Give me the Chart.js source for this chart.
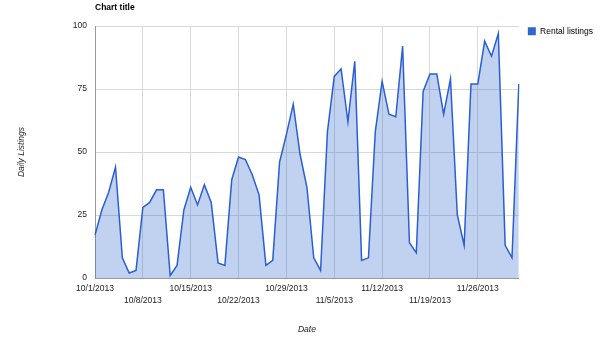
<!DOCTYPE html>
<html>
<head>
<meta charset="utf-8">
<script src="https://cdn.jsdelivr.net/npm/chart.js@4.4.1/dist/chart.umd.min.js"></script>
<style>
  html, body { margin: 0; padding: 0; background: #fff; }
  #wrap { width: 600px; height: 342px; position: relative; }
</style>
</head>
<body>
<div id="wrap"><canvas id="c" width="600" height="342"></canvas></div>
<script>
// Dates: daily from 10/1/2013 to 12/2/2013
const categories = [
  '10/1/2013','10/2/2013','10/3/2013','10/4/2013','10/5/2013','10/6/2013','10/7/2013',
  '10/8/2013','10/9/2013','10/10/2013','10/11/2013','10/12/2013','10/13/2013','10/14/2013',
  '10/15/2013','10/16/2013','10/17/2013','10/18/2013','10/19/2013','10/20/2013','10/21/2013',
  '10/22/2013','10/23/2013','10/24/2013','10/25/2013','10/26/2013','10/27/2013','10/28/2013',
  '10/29/2013','10/30/2013','10/31/2013','11/1/2013','11/2/2013','11/3/2013','11/4/2013',
  '11/5/2013','11/6/2013','11/7/2013','11/8/2013','11/9/2013','11/10/2013','11/11/2013',
  '11/12/2013','11/13/2013','11/14/2013','11/15/2013','11/16/2013','11/17/2013','11/18/2013',
  '11/19/2013','11/20/2013','11/21/2013','11/22/2013','11/23/2013','11/24/2013','11/25/2013',
  '11/26/2013','11/27/2013','11/28/2013','11/29/2013','11/30/2013','12/1/2013','12/2/2013'
];
const rentalListings = [
  17, 27, 34, 44, 8, 2, 3,
  28, 30, 35, 35, 1, 5, 27,
  36, 29, 37, 30, 6, 5, 39,
  48, 47, 41, 33, 5, 7, 46,
  57, 69, 49, 36, 8, 3, 58,
  80, 83, 62, 86, 7, 8, 58,
  78, 65, 64, 92, 14, 10, 74,
  81, 81, 65, 79, 25, 13, 77,
  77, 94, 88, 97, 13, 8, 77
];
const weeklyTickLabels = [
  '10/1/2013','10/8/2013','10/15/2013','10/22/2013','10/29/2013',
  '11/5/2013','11/12/2013','11/19/2013','11/26/2013'
];
const yTicks = [0, 25, 50, 75, 100];
const chartTitle = 'Chart title';
const seriesName = 'Rental listings';
const xTitle = 'Date';
const yTitle = 'Daily Listings';

const FONT = 'Arial, "Liberation Sans", sans-serif';

const titlePlugin = {
  id: 'leftTitle',
  afterDraw(chart) {
    const ctx = chart.ctx;
    ctx.save();
    ctx.font = 'bold 8.5px ' + FONT;
    ctx.fillStyle = '#000';
    ctx.textBaseline = 'middle';
    ctx.textAlign = 'left';
    ctx.fillText(chartTitle, chart.chartArea.left, 7.5);
    ctx.restore();
  }
};

new Chart(document.getElementById('c'), {
  type: 'line',
  data: {
    labels: categories,
    datasets: [{
      label: seriesName,
      data: rentalListings,
      borderColor: '#2a5fd0',
      backgroundColor: 'rgba(51,102,204,0.3)',
      borderWidth: 1.5,
      fill: 'origin',
      pointRadius: 0,
      tension: 0
    }]
  },
  plugins: [titlePlugin],
  options: {
    responsive: false,
    animation: false,
    layout: { padding: { top: 18, left: 0, right: -3, bottom: 0 } },
    plugins: {
      title: { display: false },
      tooltip: { enabled: false },
      legend: {
        display: true,
        position: 'right',
        align: 'start',
        labels: {
          boxWidth: 8,
          boxHeight: 8,
          padding: 9,
          color: '#222',
          font: { size: 8.5, family: FONT },
          generateLabels(chart) {
            return [{
              text: seriesName,
              fillStyle: '#3366cc',
              strokeStyle: '#3366cc',
              lineWidth: 0,
              datasetIndex: 0
            }];
          }
        }
      }
    },
    scales: {
      x: {
        type: 'category',
        offset: false,
        border: { display: true, color: '#999', width: 1 },
        grid: {
          color: '#d9d9d9',
          drawTicks: false
        },
        ticks: {
          autoSkip: false,
          maxRotation: 0,
          minRotation: 0,
          padding: 5,
          color: '#222',
          font: { size: 8.5, family: FONT, lineHeight: 1.4 },
          callback(value, index) {
            const lab = categories[index];
            const w = weeklyTickLabels.indexOf(lab);
            if (w < 0) return null;
            return (w % 2 === 0) ? [lab] : ['', lab];
          }
        },
        title: {
          display: true,
          text: xTitle,
          color: '#222',
          font: { size: 8.5, family: FONT, style: 'italic' },
          padding: { top: 0, bottom: 7 }
        },
        afterFit(scale) { scale.height = 64; }
      },
      y: {
        min: 0,
        max: 100,
        border: { display: true, color: '#999', width: 1 },
        grid: {
          color: '#d9d9d9',
          drawTicks: false
        },
        afterBuildTicks(scale) {
          scale.ticks = yTicks.map(v => ({ value: v }));
        },
        ticks: {
          padding: 8,
          color: '#222',
          font: { size: 8.5, family: FONT }
        },
        title: {
          display: true,
          text: yTitle,
          color: '#222',
          font: { size: 8.5, family: FONT, style: 'italic' },
          padding: { top: 17, bottom: 0 }
        },
        afterFit(scale) { scale.width = 95; scale.paddingTop = 26; }
      }
    }
  }
});
</script>
</body>
</html>
